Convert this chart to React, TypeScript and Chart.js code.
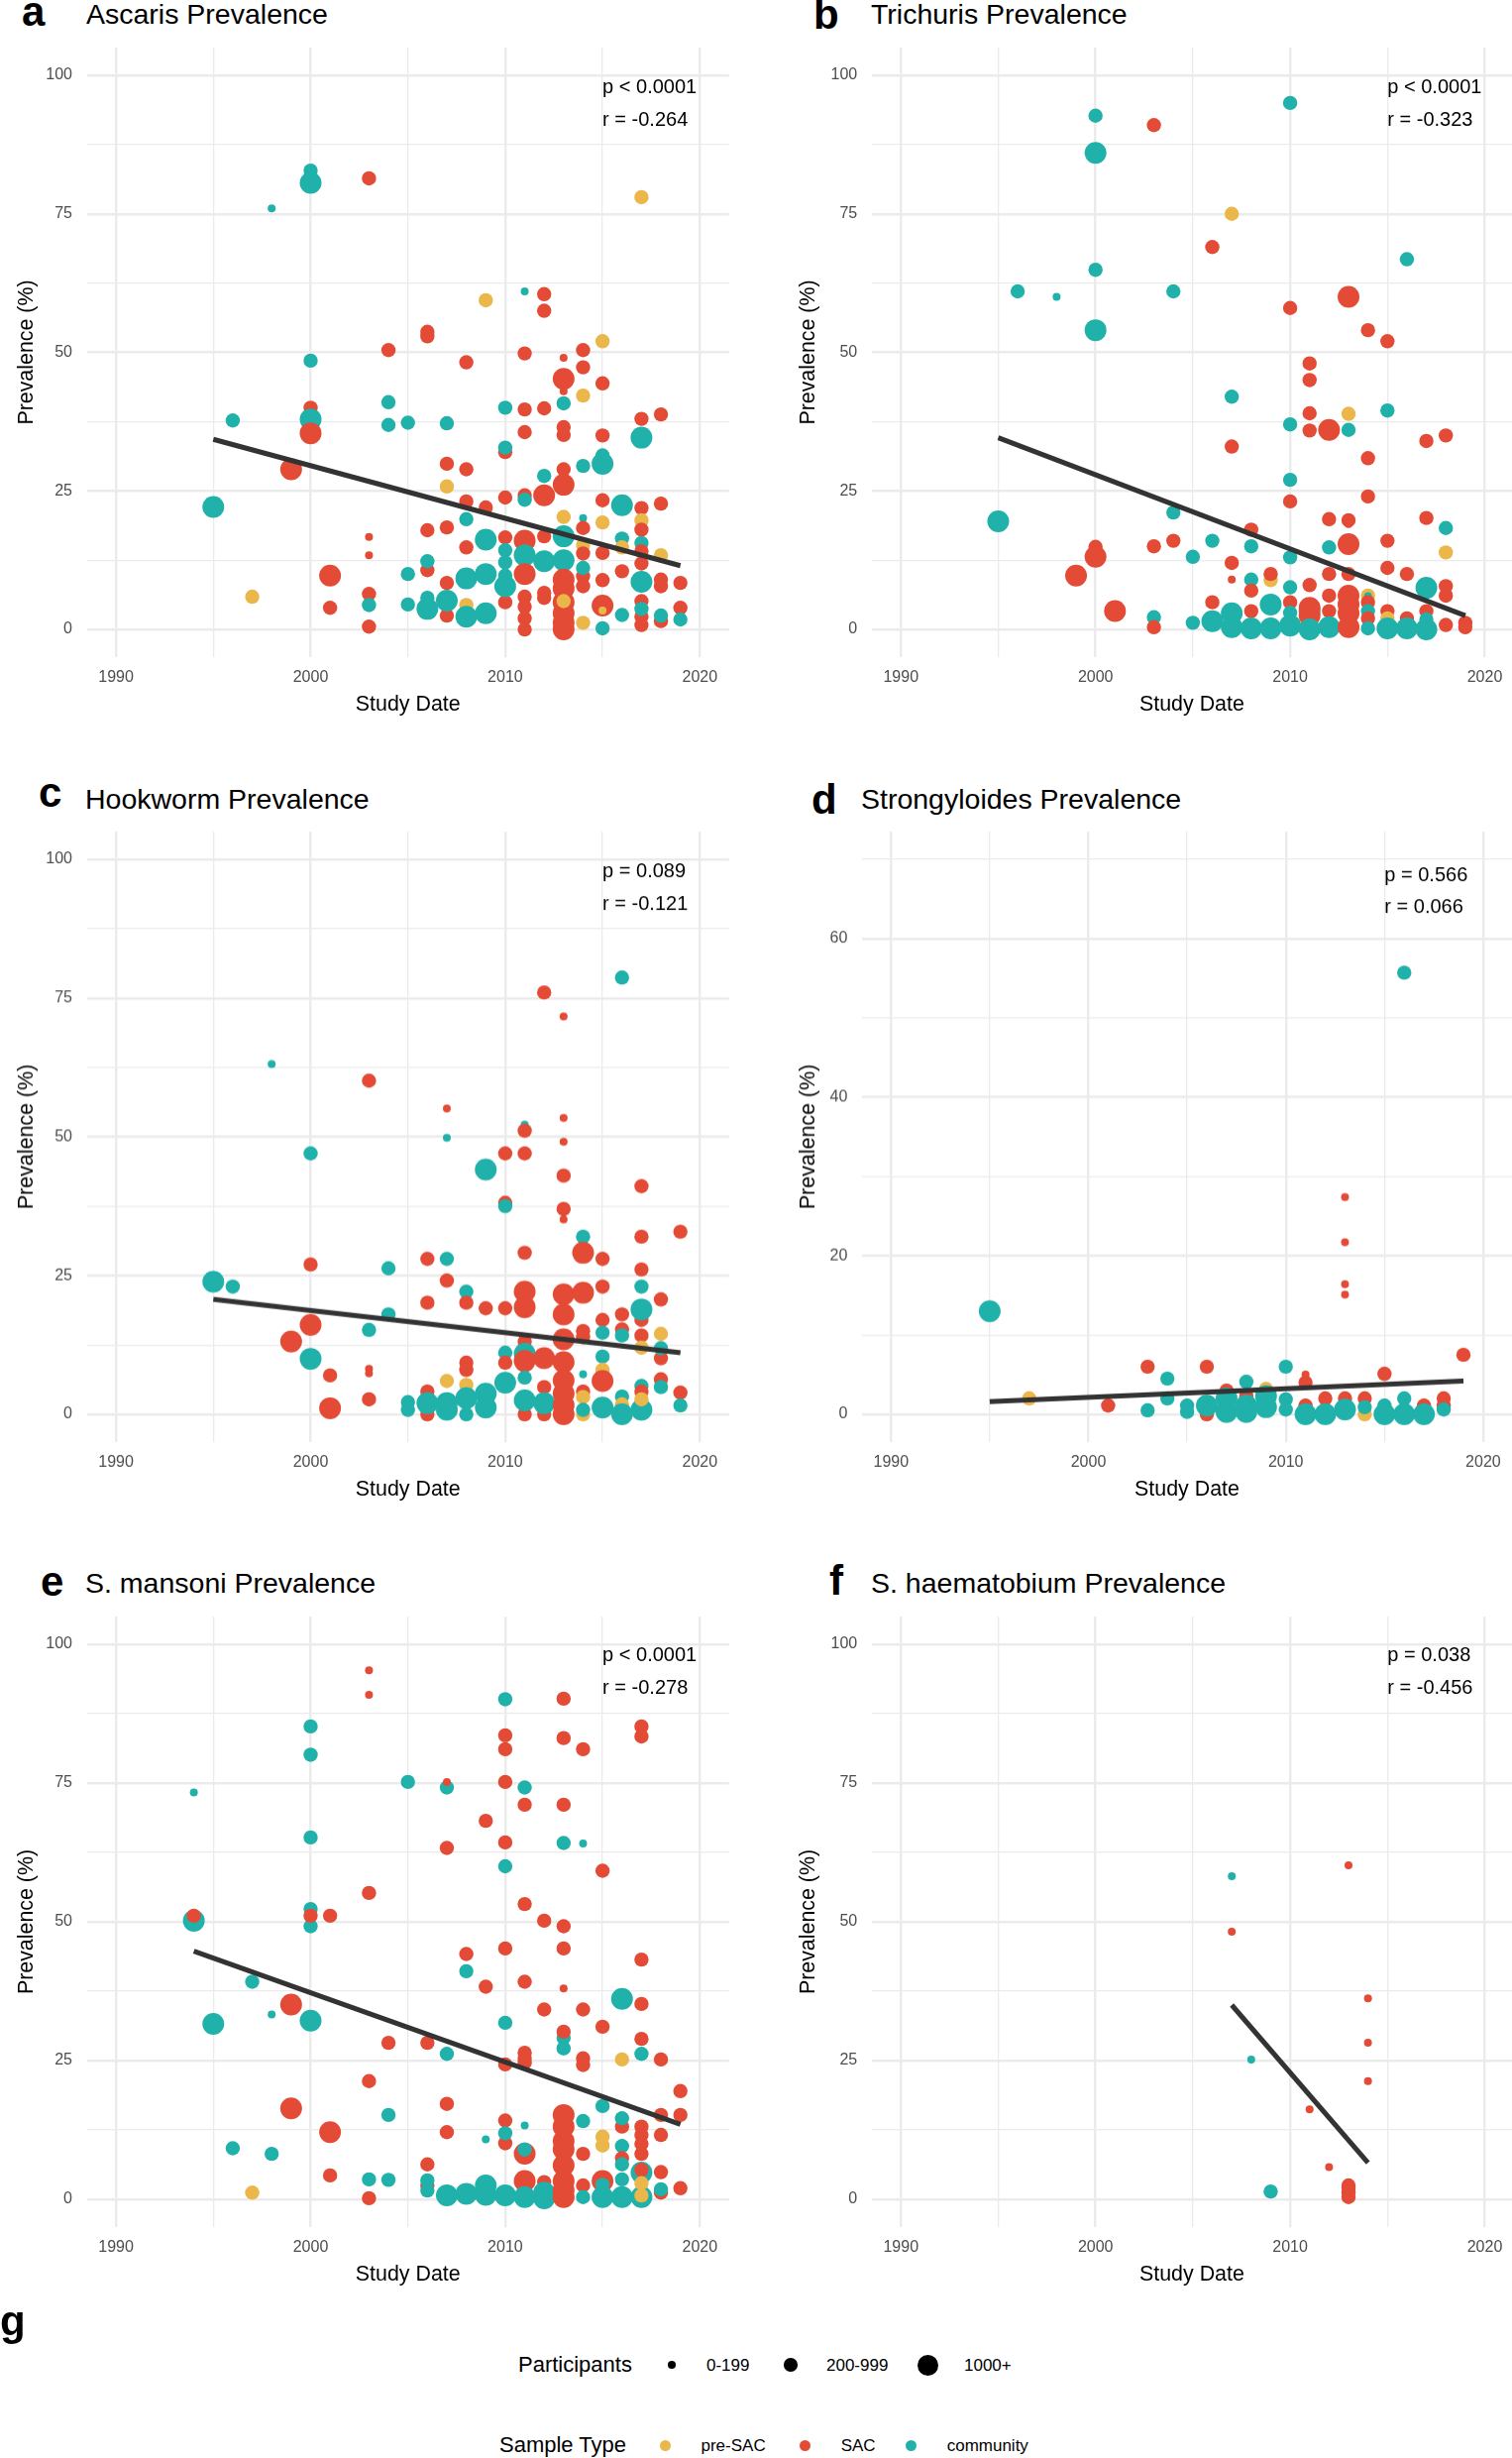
import React, { useEffect, useRef } from 'react';
import { Chart, registerables } from 'chart.js';

Chart.register(...registerables);

type Pt = [number, number, string, string]; // [study year, prevalence %, participants bin, sample type]

// ---------------- tick labels ----------------
const xMajorTicks = [1990, 2000, 2010, 2020];
const xMinorTicks = [1995, 2005, 2015];
const yMajorTicks100 = [0, 25, 50, 75, 100];
const yMinorTicks100 = [12.5, 37.5, 62.5, 87.5];
const yMajorTicksStrongy = [0, 20, 40, 60];
const yMinorTicksStrongy = [10, 30, 50, 70];

// ---------------- legend categories ----------------
const sampleTypeCodes = ['P', 'S', 'C'];
const sampleTypeLabels = ['pre-SAC', 'SAC', 'community'];
const participantCodes = ['s', 'm', 'l'];
const participantLabels = ['0-199', '200-999', '1000+'];

// ---------------- data ----------------
const ascarisPoints: Pt[] = [
  [1995, 22.1, 'l', 'C'], [1996, 37.7, 'm', 'C'], [1997, 5.9, 'm', 'P'], [1998, 76, 's', 'C'], [1999, 28.9, 'l', 'S'],
  [2000, 82.8, 'm', 'C'], [2000, 80.6, 'l', 'C'], [2000, 48.5, 'm', 'C'], [2000, 40, 'm', 'S'], [2000, 37.9, 'l', 'C'], [2000, 35.4, 'l', 'S'],
  [2001, 9.7, 'l', 'S'], [2001, 3.9, 'm', 'S'],
  [2003, 81.4, 'm', 'S'], [2003, 16.7, 's', 'S'], [2003, 13.4, 's', 'S'], [2003, 6.4, 'm', 'S'], [2003, 4.4, 'm', 'C'], [2003, 0.5, 'm', 'S'],
  [2004, 50.4, 'm', 'S'], [2004, 41, 'm', 'C'], [2004, 36.9, 'm', 'C'],
  [2005, 37.3, 'm', 'C'], [2005, 10, 'm', 'C'], [2005, 4.5, 'm', 'C'],
  [2006, 53.7, 'm', 'S'], [2006, 52.9, 'm', 'S'], [2006, 17.9, 'm', 'S'], [2006, 10.7, 'm', 'S'], [2006, 12.3, 'm', 'C'], [2006, 5.7, 'm', 'C'], [2006, 3.7, 'l', 'C'],
  [2007, 37.2, 'm', 'C'], [2007, 29.9, 'm', 'S'], [2007, 25.8, 'm', 'P'], [2007, 18.4, 'm', 'S'], [2007, 8.4, 'm', 'S'], [2007, 2.5, 'm', 'S'], [2007, 5.2, 'l', 'C'],
  [2008, 48.2, 'm', 'S'], [2008, 28.9, 'm', 'S'], [2008, 23.1, 'm', 'S'], [2008, 19.9, 'm', 'C'], [2008, 14.8, 'm', 'S'], [2008, 9.2, 'l', 'C'], [2008, 4.4, 'm', 'P'], [2008, 2.3, 'l', 'C'],
  [2009, 59.4, 'm', 'P'], [2009, 22, 'm', 'S'], [2009, 16.2, 'l', 'C'], [2009, 10, 'l', 'C'], [2009, 2.9, 'l', 'C'],
  [2010, 40, 'm', 'C'], [2010, 32, 'm', 'S'], [2010, 32.8, 'm', 'C'], [2010, 23.8, 'm', 'S'], [2010, 16.6, 'm', 'S'], [2010, 4.9, 'm', 'S'], [2010, 14.3, 'm', 'C'], [2010, 12.1, 'm', 'C'], [2010, 9.7, 'm', 'C'], [2010, 7.8, 'l', 'C'],
  [2011, 61, 's', 'C'], [2011, 49.8, 'm', 'S'], [2011, 39.7, 'm', 'S'], [2011, 35.6, 'm', 'S'], [2011, 24.2, 'm', 'S'], [2011, 23.4, 'm', 'C'], [2011, 16, 'l', 'S'], [2011, 13.4, 'l', 'C'], [2011, 10, 'l', 'S'], [2011, 5.9, 'm', 'S'], [2011, 4.1, 'm', 'S'], [2011, 2, 'm', 'S'], [2011, 0, 'm', 'S'],
  [2012, 60.5, 'm', 'S'], [2012, 57.5, 'm', 'S'], [2012, 39.9, 'm', 'S'], [2012, 27.7, 'm', 'C'], [2012, 24.2, 'l', 'S'], [2012, 16.8, 'm', 'S'], [2012, 12.3, 'l', 'C'], [2012, 6.6, 'm', 'S'], [2012, 5.7, 'm', 'S'],
  [2013, 49, 's', 'S'], [2013, 45.2, 'l', 'S'], [2013, 43, 's', 'S'], [2013, 40.8, 'm', 'C'], [2013, 36.5, 'm', 'S'], [2013, 35.1, 'm', 'S'], [2013, 28.9, 'm', 'S'], [2013, 26.1, 'l', 'S'], [2013, 20.3, 'm', 'P'], [2013, 16.8, 'l', 'C'], [2013, 12.5, 'l', 'C'], [2013, 9, 'l', 'S'], [2013, 7.4, 'l', 'S'], [2013, 2.9, 'l', 'S'], [2013, 1.2, 'l', 'S'], [2013, 0, 'l', 'S'], [2013, 4.9, 'l', 'S'], [2013, 5.1, 'm', 'P'],
  [2014, 50.4, 'm', 'S'], [2014, 47.3, 'm', 'S'], [2014, 42.2, 'm', 'P'], [2014, 29.5, 'm', 'C'], [2014, 20.1, 's', 'C'], [2014, 18.3, 'm', 'S'], [2014, 15.2, 'm', 'P'], [2014, 13.7, 'm', 'S'], [2014, 9.6, 'm', 'S'], [2014, 7.8, 'm', 'S'], [2014, 11.1, 'm', 'C'], [2014, 1.2, 'm', 'P'],
  [2015, 52, 'm', 'P'], [2015, 44.4, 'm', 'S'], [2015, 35, 'm', 'S'], [2015, 31.4, 'm', 'C'], [2015, 29.9, 'l', 'C'], [2015, 23.3, 'm', 'S'], [2015, 19.3, 'm', 'P'], [2015, 13.8, 'm', 'S'], [2015, 8.9, 'm', 'S'], [2015, 4.3, 'l', 'S'], [2015, 3.4, 's', 'P'], [2015, 0.2, 'm', 'C'],
  [2016, 22.4, 'l', 'C'], [2016, 16.4, 'm', 'C'], [2016, 14.8, 'm', 'P'], [2016, 10.5, 'm', 'S'], [2016, 2.6, 'm', 'C'],
  [2017, 78, 'm', 'P'], [2017, 38, 'm', 'S'], [2017, 34.6, 'l', 'C'], [2017, 21.9, 'm', 'S'], [2017, 19.7, 'm', 'P'], [2017, 18, 'm', 'S'], [2017, 15.6, 'm', 'C'], [2017, 14.1, 'm', 'S'], [2017, 11.9, 'm', 'S'], [2017, 8.6, 'l', 'C'], [2017, 5.1, 'm', 'S'], [2017, 2.3, 'm', 'S'], [2017, 0.8, 'm', 'S'], [2017, 3.7, 'm', 'C'],
  [2018, 38.8, 'm', 'S'], [2018, 22.7, 'm', 'S'], [2018, 13.4, 'm', 'P'], [2018, 9, 'm', 'S'], [2018, 7.8, 'm', 'S'], [2018, 1.5, 'm', 'S'], [2018, 2.5, 'm', 'C'],
  [2019, 8.4, 'm', 'S'], [2019, 3.9, 'm', 'S'], [2019, 1.8, 'm', 'C'],
];
const ascarisTrend: [number, number][] = [[1995, 34.3], [2019, 11.5]];
const ascarisStats = ['p < 0.0001', 'r = -0.264'];

const trichurisPoints: Pt[] = [
  [1995, 19.5, 'l', 'C'], [1996, 61, 'm', 'C'], [1998, 60, 's', 'C'], [1999, 9.7, 'l', 'S'],
  [2000, 92.7, 'm', 'C'], [2000, 86, 'l', 'C'], [2000, 64.9, 'm', 'C'], [2000, 54, 'l', 'C'], [2000, 14.9, 'm', 'S'], [2000, 13.1, 'l', 'S'],
  [2001, 3.9, 'm', 'S'], [2001, 3.3, 'l', 'S'],
  [2003, 91, 'm', 'S'], [2003, 15, 'm', 'S'], [2003, 2.2, 'm', 'C'], [2003, 0.4, 'm', 'S'],
  [2004, 61, 'm', 'C'], [2004, 21.1, 'm', 'C'], [2004, 16, 'm', 'S'],
  [2005, 13.1, 'm', 'C'], [2005, 1.2, 'm', 'C'],
  [2006, 69, 'm', 'S'], [2006, 16, 'm', 'C'], [2006, 4.9, 'm', 'S'], [2006, 1.5, 'l', 'C'],
  [2007, 75, 'm', 'P'], [2007, 42, 'm', 'C'], [2007, 33, 'm', 'S'], [2007, 12, 'm', 'S'], [2007, 9, 's', 'S'], [2007, 2.9, 'l', 'C'], [2007, 0.4, 'l', 'C'],
  [2008, 18, 'm', 'S'], [2008, 15, 'm', 'C'], [2008, 9, 'm', 'C'], [2008, 7, 'm', 'S'], [2008, 3.3, 'm', 'S'], [2008, 0.2, 'l', 'C'],
  [2009, 8.9, 'm', 'P'], [2009, 10, 'm', 'S'], [2009, 4.5, 'l', 'C'], [2009, 0.2, 'l', 'C'],
  [2010, 95, 'm', 'C'], [2010, 58, 'm', 'S'], [2010, 37, 'm', 'C'], [2010, 27, 'm', 'C'], [2010, 23.1, 'm', 'S'], [2010, 13, 'm', 'C'], [2010, 7.6, 'm', 'C'], [2010, 4.9, 'm', 'S'], [2010, 3, 'm', 'C'], [2010, 0.7, 'l', 'C'],
  [2011, 48, 'm', 'S'], [2011, 45, 'm', 'S'], [2011, 39, 'm', 'S'], [2011, 35.9, 'm', 'S'], [2011, 8, 'm', 'S'], [2011, 3.3, 'l', 'C'], [2011, 3.9, 'l', 'S'], [2011, 2.5, 'l', 'S'], [2011, 0, 'l', 'C'],
  [2012, 36, 'l', 'S'], [2012, 19.9, 'm', 'S'], [2012, 14.8, 'm', 'C'], [2012, 10, 'm', 'S'], [2012, 6.1, 'm', 'S'], [2012, 3.3, 'm', 'S'], [2012, 0.4, 'l', 'C'],
  [2013, 60, 'l', 'S'], [2013, 38.9, 'm', 'P'], [2013, 36, 'm', 'C'], [2013, 19.7, 'm', 'S'], [2013, 19, 's', 'S'], [2013, 15.4, 'l', 'S'], [2013, 10, 'm', 'S'], [2013, 6.1, 'l', 'S'], [2013, 4.5, 'l', 'S'], [2013, 2.9, 'l', 'S'], [2013, 0.4, 'l', 'S'],
  [2014, 54, 'm', 'S'], [2014, 30.9, 'm', 'S'], [2014, 24, 'm', 'S'], [2014, 6.1, 'm', 'P'], [2014, 6, 's', 'C'], [2014, 4.9, 'm', 'S'], [2014, 3.3, 'm', 'C'], [2014, 2, 'm', 'S'], [2014, 0.2, 'm', 'C'],
  [2015, 52, 'm', 'S'], [2015, 39.5, 'm', 'C'], [2015, 16, 'm', 'S'], [2015, 11.1, 'm', 'S'], [2015, 3.3, 'm', 'S'], [2015, 2, 'm', 'P'], [2015, 0.2, 'l', 'C'],
  [2016, 66.8, 'm', 'C'], [2016, 10, 'm', 'S'], [2016, 2, 'm', 'S'], [2016, 0.2, 'l', 'C'],
  [2017, 34, 'm', 'S'], [2017, 20.1, 'm', 'S'], [2017, 7.5, 'l', 'C'], [2017, 3.3, 'm', 'S'], [2017, 1.8, 'm', 'C'], [2017, 0, 'l', 'C'],
  [2018, 35, 'm', 'S'], [2018, 18.3, 'm', 'C'], [2018, 13.9, 'm', 'P'], [2018, 7.8, 'm', 'S'], [2018, 6.1, 'm', 'S'], [2018, 0.8, 'm', 'S'],
  [2019, 1.2, 'm', 'S'], [2019, 0.4, 'm', 'S'],
];
const trichurisTrend: [number, number][] = [[1995, 34.6], [2019, 2.5]];
const trichurisStats = ['p < 0.0001', 'r = -0.323'];

const hookwormPoints: Pt[] = [
  [1995, 23.9, 'l', 'C'], [1996, 23, 'm', 'C'], [1998, 63.1, 's', 'C'], [1999, 13.1, 'l', 'S'],
  [2000, 47, 'm', 'C'], [2000, 27, 'm', 'S'], [2000, 16.1, 'l', 'S'], [2000, 10, 'l', 'C'],
  [2001, 7, 'm', 'S'], [2001, 1.1, 'l', 'S'],
  [2003, 60.1, 'm', 'S'], [2003, 15.2, 'm', 'C'], [2003, 8.2, 's', 'S'], [2003, 7.4, 's', 'S'], [2003, 2.7, 'm', 'S'],
  [2004, 26.3, 'm', 'C'], [2004, 18, 'm', 'C'],
  [2005, 2.2, 'm', 'C'], [2005, 0.8, 'm', 'C'],
  [2006, 28, 'm', 'S'], [2006, 20.1, 'm', 'S'], [2006, 4.1, 'm', 'S'], [2006, 0, 'm', 'S'], [2006, 2, 'l', 'C'],
  [2007, 55.1, 's', 'S'], [2007, 49.8, 's', 'C'], [2007, 28, 'm', 'C'], [2007, 24.1, 'm', 'S'], [2007, 6, 'm', 'P'], [2007, 2, 'l', 'C'], [2007, 0.8, 'l', 'C'],
  [2008, 22.1, 'm', 'C'], [2008, 20.1, 'm', 'S'], [2008, 9.3, 'm', 'S'], [2008, 8, 'm', 'S'], [2008, 5.3, 'm', 'P'], [2008, 0, 'm', 'C'], [2008, 2.9, 'l', 'C'],
  [2009, 44.1, 'l', 'C'], [2009, 19.1, 'm', 'S'], [2009, 3.7, 'l', 'C'], [2009, 1.2, 'l', 'C'],
  [2010, 47, 'm', 'S'], [2010, 38.1, 'm', 'S'], [2010, 37.5, 'm', 'C'], [2010, 19.1, 'm', 'S'], [2010, 11.1, 'm', 'C'], [2010, 9.3, 'm', 'S'], [2010, 5.7, 'l', 'C'],
  [2011, 52.2, 's', 'C'], [2011, 51.1, 'm', 'S'], [2011, 47, 'm', 'S'], [2011, 29.1, 'm', 'S'], [2011, 22.1, 'l', 'S'], [2011, 19.3, 'l', 'S'], [2011, 13.1, 'm', 'S'], [2011, 10.9, 'l', 'C'], [2011, 9.6, 'l', 'S'], [2011, 6.6, 'm', 'C'], [2011, 0, 'm', 'S'], [2011, 2.5, 'l', 'C'],
  [2012, 76, 'm', 'S'], [2012, 10.1, 'l', 'S'], [2012, 4.9, 'm', 'S'], [2012, 0, 'm', 'S'], [2012, 2, 'l', 'C'],
  [2013, 71.7, 's', 'S'], [2013, 53.4, 's', 'S'], [2013, 49.1, 's', 'S'], [2013, 43, 'm', 'S'], [2013, 37, 'm', 'S'], [2013, 35.1, 's', 'S'], [2013, 21.6, 'l', 'S'], [2013, 18, 'l', 'S'], [2013, 13.5, 'l', 'S'], [2013, 9.4, 'l', 'S'], [2013, 6.1, 'l', 'S'], [2013, 3.7, 'l', 'S'], [2013, 1.6, 'l', 'S'], [2013, 0, 'l', 'S'],
  [2014, 32, 'm', 'C'], [2014, 29.1, 'l', 'S'], [2014, 21.9, 'l', 'S'], [2014, 15, 'm', 'S'], [2014, 13.9, 'm', 'S'], [2014, 7.2, 's', 'C'], [2014, 4.1, 'm', 'S'], [2014, 0, 'm', 'P'], [2014, 3.1, 'm', 'P'], [2014, 0.8, 'm', 'C'],
  [2015, 28, 'm', 'S'], [2015, 23, 'm', 'S'], [2015, 17, 'm', 'S'], [2015, 14.7, 'm', 'C'], [2015, 10.4, 'm', 'C'], [2015, 8, 'm', 'P'], [2015, 6, 'l', 'S'], [2015, 1.2, 'l', 'C'],
  [2016, 78.7, 'm', 'C'], [2016, 18, 'm', 'S'], [2016, 15.3, 'm', 'S'], [2016, 14.2, 'm', 'C'], [2016, 3.2, 'm', 'C'], [2016, 1.8, 'm', 'P'], [2016, 0, 'l', 'C'],
  [2017, 41.1, 'm', 'S'], [2017, 32, 'm', 'S'], [2017, 26.1, 'm', 'S'], [2017, 23, 'm', 'C'], [2017, 17, 'm', 'S'], [2017, 18.9, 'l', 'C'], [2017, 14.2, 'm', 'S'], [2017, 12, 'm', 'P'], [2017, 5.1, 'm', 'C'], [2017, 4.1, 'm', 'S'], [2017, 0.8, 'l', 'C'], [2017, 2.7, 'm', 'P'],
  [2018, 20.7, 'm', 'S'], [2018, 14.5, 'm', 'P'], [2018, 10.1, 'm', 'S'], [2018, 11.9, 'm', 'C'], [2018, 6.3, 'm', 'S'], [2018, 4.9, 'm', 'C'],
  [2019, 32.9, 'm', 'S'], [2019, 3.9, 'm', 'S'], [2019, 1.6, 'm', 'C'],
];
const hookwormTrend: [number, number][] = [[1995, 20.7], [2019, 11.1]];
const hookwormStats = ['p = 0.089', 'r = -0.121'];

const strongyloidesPoints: Pt[] = [
  [1995, 13, 'l', 'C'], [1997, 2, 'm', 'P'], [2001, 1.1, 'm', 'S'],
  [2003, 6, 'm', 'S'], [2003, 0.5, 'm', 'C'],
  [2004, 4.5, 'm', 'C'], [2004, 2, 'm', 'C'],
  [2005, 1.1, 'm', 'C'], [2005, 0.3, 'm', 'C'],
  [2006, 6, 'm', 'S'], [2006, 0, 'm', 'S'], [2006, 1.1, 'l', 'C'],
  [2007, 3, 'm', 'S'], [2007, 2, 'l', 'C'], [2007, 0.3, 'l', 'C'],
  [2008, 4.1, 'm', 'C'], [2008, 2.3, 'm', 'S'], [2008, 1.1, 'l', 'C'], [2008, 0.3, 'l', 'C'],
  [2009, 3.2, 'm', 'P'], [2009, 2.3, 'l', 'C'], [2009, 0.9, 'l', 'C'],
  [2010, 6, 'm', 'C'], [2010, 1.9, 'm', 'C'], [2010, 0.6, 'm', 'C'],
  [2011, 5, 's', 'S'], [2011, 4, 'm', 'S'], [2011, 1.1, 'm', 'S'], [2011, 0, 'l', 'C'],
  [2012, 2, 'm', 'S'], [2012, 0, 'l', 'C'],
  [2013, 27.4, 's', 'S'], [2013, 21.7, 's', 'S'], [2013, 16.4, 's', 'S'], [2013, 15.1, 's', 'S'], [2013, 2, 'm', 'S'], [2013, 0.6, 'l', 'C'],
  [2014, 2, 'm', 'S'], [2014, 0, 'm', 'P'], [2014, 0.9, 'm', 'C'],
  [2015, 5.1, 'm', 'S'], [2015, 1.1, 'm', 'C'], [2015, 0, 'l', 'C'],
  [2016, 55.7, 'm', 'C'], [2016, 2, 'm', 'C'], [2016, 0, 'l', 'C'],
  [2017, 1.1, 'm', 'S'], [2017, 0, 'l', 'C'],
  [2018, 2, 'm', 'S'], [2018, 1.1, 'm', 'S'], [2018, 0.6, 'm', 'C'],
  [2019, 7.5, 'm', 'S'],
];
const strongyloidesTrend: [number, number][] = [[1995, 1.6], [2019, 4.2]];
const strongyloidesStats = ['p = 0.566', 'r = 0.066'];

const mansoniPoints: Pt[] = [
  [1994, 73.3, 's', 'C'], [1994, 50.2, 'l', 'C'], [1994, 51.1, 'm', 'S'],
  [1995, 31.6, 'l', 'C'], [1996, 9.2, 'm', 'C'], [1997, 39.2, 'm', 'C'], [1997, 1.2, 'm', 'P'],
  [1998, 33.3, 's', 'C'], [1998, 8.2, 'm', 'C'], [1999, 35.1, 'l', 'S'], [1999, 16.4, 'l', 'S'],
  [2000, 85.2, 'm', 'C'], [2000, 80.1, 'm', 'C'], [2000, 65.2, 'm', 'C'], [2000, 52.3, 'm', 'C'], [2000, 49.2, 'm', 'C'], [2000, 51.1, 'm', 'S'], [2000, 32.2, 'l', 'C'],
  [2001, 51.1, 'm', 'S'], [2001, 12.1, 'l', 'S'], [2001, 4.3, 'm', 'S'],
  [2003, 95.3, 's', 'S'], [2003, 90.9, 's', 'S'], [2003, 55.2, 'm', 'S'], [2003, 21.3, 'm', 'S'], [2003, 3.6, 'm', 'C'], [2003, 0.2, 'm', 'S'],
  [2004, 28.2, 'm', 'S'], [2004, 15.2, 'm', 'C'], [2004, 3.5, 'm', 'C'],
  [2005, 75.2, 'm', 'C'],
  [2006, 28.2, 'm', 'S'], [2006, 6.3, 'm', 'S'], [2006, 2.5, 'm', 'S'], [2006, 3.4, 'm', 'C'], [2006, 1.6, 'm', 'C'],
  [2007, 74.2, 'm', 'C'], [2007, 75.2, 's', 'S'], [2007, 63.3, 'm', 'S'], [2007, 26.2, 'm', 'C'], [2007, 17.2, 'm', 'S'], [2007, 12.1, 'm', 'S'], [2007, 0.7, 'l', 'C'],
  [2008, 44.2, 'm', 'S'], [2008, 41.1, 'm', 'C'], [2008, 1, 'l', 'C'],
  [2009, 68.2, 'm', 'S'], [2009, 38.3, 'm', 'S'], [2009, 10.8, 's', 'C'], [2009, 2.5, 'l', 'C'], [2009, 0.8, 'l', 'C'],
  [2010, 90.1, 'm', 'C'], [2010, 83.6, 'm', 'S'], [2010, 81.1, 'm', 'S'], [2010, 75.2, 'm', 'S'], [2010, 64.3, 'm', 'S'], [2010, 60, 'm', 'C'], [2010, 45.2, 'm', 'S'], [2010, 31.8, 'm', 'C'], [2010, 24.3, 'm', 'S'], [2010, 14.2, 'm', 'S'], [2010, 10.1, 'm', 'S'], [2010, 11.9, 'm', 'C'], [2010, 0.7, 'l', 'C'],
  [2011, 74.2, 'm', 'C'], [2011, 71.1, 'm', 'S'], [2011, 53.2, 'm', 'S'], [2011, 39.2, 'm', 'S'], [2011, 26.4, 'm', 'S'], [2011, 25.4, 'm', 'S'], [2011, 24.6, 'm', 'S'], [2011, 13.3, 's', 'C'], [2011, 8.2, 'l', 'S'], [2011, 9, 'm', 'C'], [2011, 3.3, 'l', 'S'], [2011, 0.4, 'l', 'C'],
  [2012, 50.2, 'm', 'S'], [2012, 34.2, 'm', 'S'], [2012, 3.1, 'm', 'S'], [2012, 1.2, 'l', 'C'], [2012, 0.2, 'l', 'C'],
  [2013, 90.2, 'm', 'S'], [2013, 83.1, 'm', 'S'], [2013, 71.1, 'm', 'S'], [2013, 64.2, 'm', 'C'], [2013, 49.2, 'm', 'S'], [2013, 45.2, 'm', 'S'], [2013, 38, 's', 'S'], [2013, 29.1, 'm', 'C'], [2013, 27.2, 'm', 'C'], [2013, 30.2, 'm', 'S'], [2013, 15.2, 'l', 'S'], [2013, 13.1, 'l', 'S'], [2013, 10.5, 'l', 'S'], [2013, 9, 'l', 'S'], [2013, 6.1, 'l', 'S'], [2013, 3.3, 'l', 'S'], [2013, 1.6, 'l', 'S'], [2013, 0.4, 'l', 'S'],
  [2014, 81.1, 'm', 'S'], [2014, 64.1, 's', 'C'], [2014, 34.2, 'm', 'S'], [2014, 25.4, 'm', 'S'], [2014, 24.2, 'm', 'S'], [2014, 14.1, 'm', 'C'], [2014, 8.2, 'm', 'S'], [2014, 2.5, 'm', 'S'], [2014, 0.4, 'm', 'C'],
  [2015, 59.2, 'm', 'S'], [2015, 31.1, 'm', 'S'], [2015, 16.8, 'm', 'C'], [2015, 11.3, 'm', 'P'], [2015, 9.7, 'm', 'P'], [2015, 3.3, 'l', 'S'], [2015, 2.6, 'm', 'C'], [2015, 0.4, 'l', 'C'],
  [2016, 36.1, 'l', 'C'], [2016, 25.2, 'm', 'P'], [2016, 13.1, 'm', 'S'], [2016, 14.6, 'm', 'C'], [2016, 9.6, 'm', 'C'], [2016, 7.4, 'm', 'S'], [2016, 6.3, 'm', 'C'], [2016, 3.6, 'm', 'C'], [2016, 0.4, 'l', 'C'],
  [2017, 85.2, 'm', 'S'], [2017, 83.4, 'm', 'S'], [2017, 43.2, 'm', 'S'], [2017, 35.2, 'm', 'S'], [2017, 28.9, 'm', 'S'], [2017, 26.2, 'm', 'C'], [2017, 13.1, 'm', 'S'], [2017, 11.6, 'm', 'S'], [2017, 10, 'm', 'S'], [2017, 8.2, 'm', 'S'], [2017, 0.4, 'l', 'C'], [2017, 4.8, 'l', 'C'], [2017, 5.3, 'm', 'S'], [2017, 2.9, 'm', 'P'], [2017, 0.7, 'm', 'P'],
  [2018, 25.2, 'm', 'S'], [2018, 15.2, 'm', 'S'], [2018, 11.6, 'm', 'S'], [2018, 4.9, 'm', 'S'], [2018, 1.2, 'm', 'S'], [2018, 1.8, 'm', 'C'],
  [2019, 19.5, 'm', 'S'], [2019, 15.2, 'm', 'S'], [2019, 2, 'm', 'S'],
];
const mansoniTrend: [number, number][] = [[1994, 44.7], [2019, 13.5]];
const mansoniStats = ['p < 0.0001', 'r = -0.278'];

const haematobiumPoints: Pt[] = [
  [2007, 58.2, 's', 'C'], [2007, 48.2, 's', 'S'], [2008, 25.2, 's', 'C'], [2009, 1.4, 'm', 'C'],
  [2011, 16.2, 's', 'S'], [2012, 5.8, 's', 'S'],
  [2013, 60.2, 's', 'S'], [2013, 2.5, 'm', 'S'], [2013, 2, 'm', 'S'], [2013, 1.2, 'm', 'S'], [2013, 0.4, 'm', 'S'],
  [2014, 36.2, 's', 'S'], [2014, 28.2, 's', 'S'], [2014, 21.3, 's', 'S'],
];
const haematobiumTrend: [number, number][] = [[2007, 35.0], [2014, 6.6]];
const haematobiumStats = ['p = 0.038', 'r = -0.456'];

// ---------------- styles ----------------
const FONT = '"Liberation Sans", Arial, Helvetica, sans-serif';
const typeColor: Record<string, string> = { P: '#EBB74A', S: '#E34B36', C: '#20B2AA' };
const sizeRadius: Record<string, number> = { s: 4, m: 7.2, l: 11 };
const legendSizeRadius = [4, 6.8, 10.5];
const GRID = '#EBEBEB';

type PanelCfg = {
  letter: string; title: string; points: Pt[]; trend: [number, number][]; stats: string[];
  statsY: number[]; yMajor: number[]; yMinor: number[]; yMin: number; yMax: number;
  xMin: number; xMax: number;
  cl: number; cw: number; L: number; R: number; T: number; B: number; yTitleX: number;
  letterX: number; letterBase: number; titleX: number; titleBase: number;
};

const panels: PanelCfg[] = [
  { letter: 'a', title: 'Ascaris Prevalence', points: ascarisPoints, trend: ascarisTrend, stats: ascarisStats,
    statsY: [97.8, 91.8], yMajor: yMajorTicks100, yMinor: yMinorTicks100, yMin: -5, yMax: 105, xMin: 1988.5, xMax: 2021.5,
    cl: 0, cw: 763, L: 87.6, R: 735.8, T: 48, B: 663, yTitleX: 26.8, letterX: 22, letterBase: 27, titleX: 87, titleBase: 24 },
  { letter: 'b', title: 'Trichuris Prevalence', points: trichurisPoints, trend: trichurisTrend, stats: trichurisStats,
    statsY: [97.8, 91.8], yMajor: yMajorTicks100, yMinor: yMinorTicks100, yMin: -5, yMax: 105, xMin: 1988.5, xMax: 2021.4,
    cl: 763, cw: 763, L: 879.8, R: 1526, T: 48, B: 663, yTitleX: 816.5, letterX: 821, letterBase: 30, titleX: 879, titleBase: 24 },
  { letter: 'c', title: 'Hookworm Prevalence', points: hookwormPoints, trend: hookwormTrend, stats: hookwormStats,
    statsY: [97.8, 91.8], yMajor: yMajorTicks100, yMinor: yMinorTicks100, yMin: -5, yMax: 105, xMin: 1988.5, xMax: 2021.5,
    cl: 0, cw: 763, L: 87.6, R: 735.8, T: 839.4, B: 1454.6, yTitleX: 26.8, letterX: 39, letterBase: 815, titleX: 86, titleBase: 816 },
  { letter: 'd', title: 'Strongyloides Prevalence', points: strongyloidesPoints, trend: strongyloidesTrend, stats: strongyloidesStats,
    statsY: [67.9, 63.9], yMajor: yMajorTicksStrongy, yMinor: yMinorTicksStrongy, yMin: -3.5, yMax: 73.5, xMin: 1988.53, xMax: 2021.46,
    cl: 763, cw: 763, L: 870, R: 1526, T: 839.4, B: 1454.6, yTitleX: 816.5, letterX: 819, letterBase: 822, titleX: 869, titleBase: 816 },
  { letter: 'e', title: 'S. mansoni Prevalence', points: mansoniPoints, trend: mansoniTrend, stats: mansoniStats,
    statsY: [98, 92], yMajor: yMajorTicks100, yMinor: yMinorTicks100, yMin: -5, yMax: 105, xMin: 1988.5, xMax: 2021.5,
    cl: 0, cw: 763, L: 87.6, R: 735.8, T: 1631.2, B: 2247.4, yTitleX: 26.8, letterX: 41, letterBase: 1611, titleX: 86, titleBase: 1607 },
  { letter: 'f', title: 'S. haematobium Prevalence', points: haematobiumPoints, trend: haematobiumTrend, stats: haematobiumStats,
    statsY: [98, 92], yMajor: yMajorTicks100, yMinor: yMinorTicks100, yMin: -5, yMax: 105, xMin: 1988.5, xMax: 2021.4,
    cl: 763, cw: 763, L: 879.8, R: 1526, T: 1631.2, B: 2247.4, yTitleX: 816.5, letterX: 837, letterBase: 1610, titleX: 879, titleBase: 1607 },
];

const AXIS_TITLE = 21.4;
const TICK = 16;
const X_AXIS_H = 80;

function PanelChart({ cfg }: { cfg: PanelCfg }) {
  const ref = useRef<HTMLCanvasElement>(null);
  const ct = cfg.T - 4;
  const ch = cfg.B + X_AXIS_H - ct;
  useEffect(() => {
    const canvas = ref.current;
    if (!canvas) return;
    const xMajorSet = new Set(xMajorTicks);
    const yMajorSet = new Set(cfg.yMajor);
    const xAll = [...xMajorTicks, ...xMinorTicks].sort((a, b) => a - b);
    const yAll = [...cfg.yMajor, ...cfg.yMinor].sort((a, b) => a - b);
    const lh = AXIS_TITLE * 1.2;
    const statsPlugin = {
      id: 'statsText',
      afterDatasetsDraw(chart: any) {
        const { ctx } = chart;
        const xs = chart.scales.x;
        const ys = chart.scales.y;
        ctx.save();
        ctx.font = `20px ${FONT}`;
        ctx.fillStyle = '#000000';
        ctx.textAlign = 'left';
        ctx.textBaseline = 'middle';
        cfg.stats.forEach((s, i) => {
          ctx.fillText(s, xs.getPixelForValue(2015), ys.getPixelForValue(cfg.statsY[i]));
        });
        ctx.restore();
      },
    };
    const chart = new Chart(canvas, {
      type: 'scatter',
      data: {
        datasets: [
          {
            data: cfg.trend.map(([x, y]) => ({ x, y })),
            showLine: true,
            borderColor: '#333333',
            borderWidth: 5,
            pointRadius: 0,
            pointHoverRadius: 0,
            order: 0,
          } as any,
          {
            data: cfg.points.map((p) => ({ x: p[0], y: p[1] })),
            pointRadius: cfg.points.map((p) => sizeRadius[p[2]]),
            pointHoverRadius: cfg.points.map((p) => sizeRadius[p[2]]),
            pointBackgroundColor: cfg.points.map((p) => typeColor[p[3]]),
            pointBorderWidth: 0,
            pointHoverBorderWidth: 0,
            borderWidth: 0,
            order: 1,
          } as any,
        ],
      },
      options: {
        animation: false,
        responsive: false,
        devicePixelRatio: 1,
        events: [],
        layout: { autoPadding: false, padding: { left: 0, top: cfg.T - ct, right: cfg.cl + cfg.cw - cfg.R, bottom: 0 } },
        plugins: { legend: { display: false }, tooltip: { enabled: false }, title: { display: false } },
        scales: {
          x: {
            type: 'linear',
            min: cfg.xMin,
            max: cfg.xMax,
            afterBuildTicks: (s: any) => { s.ticks = xAll.map((v) => ({ value: v })); },
            afterFit: (s: any) => { s.height = X_AXIS_H; s.paddingLeft = 0; s.paddingRight = 0; },
            ticks: {
              autoSkip: false,
              maxRotation: 0,
              padding: 21 - TICK * 0.6,
              color: '#4D4D4D',
              font: { family: FONT, size: TICK },
              callback: (v: any) => (xMajorSet.has(Number(v)) ? String(v) : ''),
            },
            grid: {
              color: GRID,
              drawTicks: false,
              lineWidth: (c: any) => (c.tick && xMajorSet.has(c.tick.value) ? 2.4 : 1.3),
            },
            border: { display: false },
            title: {
              display: true,
              text: 'Study Date',
              color: '#000000',
              font: { family: FONT, size: AXIS_TITLE },
              padding: { top: 0, bottom: X_AXIS_H - 48 - lh / 2 },
            },
          },
          y: {
            type: 'linear',
            min: cfg.yMin,
            max: cfg.yMax,
            afterBuildTicks: (s: any) => { s.ticks = yAll.map((v) => ({ value: v })); },
            afterFit: (s: any) => { s.width = cfg.L - cfg.cl; s.paddingTop = 0; s.paddingBottom = 0; },
            ticks: {
              autoSkip: false,
              padding: 14.6,
              color: '#4D4D4D',
              font: { family: FONT, size: TICK },
              callback: (v: any) => (yMajorSet.has(Number(v)) ? String(v) : ''),
            },
            grid: {
              color: GRID,
              drawTicks: false,
              lineWidth: (c: any) => (c.tick && yMajorSet.has(c.tick.value) ? 2.4 : 1.3),
            },
            border: { display: false },
            title: {
              display: true,
              text: 'Prevalence (%)',
              color: '#000000',
              font: { family: FONT, size: AXIS_TITLE },
              padding: { top: cfg.yTitleX - cfg.cl - lh / 2, bottom: 0 },
            },
          },
        },
      } as any,
      plugins: [statsPlugin],
    });
    return () => chart.destroy();
  }, [cfg]);
  return (
    <canvas
      ref={ref}
      width={cfg.cw}
      height={ch}
      style={{ position: 'absolute', left: cfg.cl, top: ct, width: cfg.cw, height: ch }}
    />
  );
}

function TextAt({ x, base, size, bold, children }: { x: number; base: number; size: number; bold?: boolean; children: React.ReactNode }) {
  return (
    <div
      style={{
        position: 'absolute', left: x, top: base - 0.8465 * size, fontFamily: FONT, fontSize: size,
        lineHeight: `${size}px`, fontWeight: bold ? 700 : 400, whiteSpace: 'nowrap', color: '#000',
      }}
    >
      {children}
    </div>
  );
}

function TextMid({ x, cy, size, children }: { x: number; cy: number; size: number; children: React.ReactNode }) {
  return (
    <div
      style={{
        position: 'absolute', left: x, top: cy - 0.4865 * size, fontFamily: FONT, fontSize: size,
        lineHeight: `${size}px`, whiteSpace: 'nowrap', color: '#000',
      }}
    >
      {children}
    </div>
  );
}

function Dot({ cx, cy, r, color }: { cx: number; cy: number; r: number; color: string }) {
  return (
    <div style={{ position: 'absolute', left: cx - r, top: cy - r, width: 2 * r, height: 2 * r, borderRadius: '50%', background: color }} />
  );
}

const sizeLegendDotX = [678, 798, 936];
const sizeLegendLabelX = [713, 834, 973];
const typeLegendDotX = [671.5, 812.6, 919.7];
const typeLegendLabelX = [707.5, 848.7, 955.7];

export default function App() {
  return (
    <div style={{ position: 'absolute', left: 0, top: 0, width: 1526, height: 2480, background: '#fff', overflow: 'hidden' }}>
      {panels.map((p) => (
        <React.Fragment key={p.letter}>
          <PanelChart cfg={p} />
          <TextAt x={p.letterX} base={p.letterBase} size={42} bold>{p.letter}</TextAt>
          <TextAt x={p.titleX} base={p.titleBase} size={28.5}>{p.title}</TextAt>
        </React.Fragment>
      ))}
      <TextAt x={0} base={2357} size={42} bold>g</TextAt>
      <TextMid x={523} cy={2386} size={22}>Participants</TextMid>
      {participantCodes.map((c, i) => (
        <React.Fragment key={c}>
          <Dot cx={sizeLegendDotX[i]} cy={2386} r={legendSizeRadius[i]} color="#000" />
          <TextMid x={sizeLegendLabelX[i]} cy={2386} size={17}>{participantLabels[i]}</TextMid>
        </React.Fragment>
      ))}
      <TextMid x={504} cy={2467} size={22}>Sample Type</TextMid>
      {sampleTypeCodes.map((c, i) => (
        <React.Fragment key={c}>
          <Dot cx={typeLegendDotX[i]} cy={2467} r={5.5} color={typeColor[c]} />
          <TextMid x={typeLegendLabelX[i]} cy={2467} size={17}>{sampleTypeLabels[i]}</TextMid>
        </React.Fragment>
      ))}
    </div>
  );
}
